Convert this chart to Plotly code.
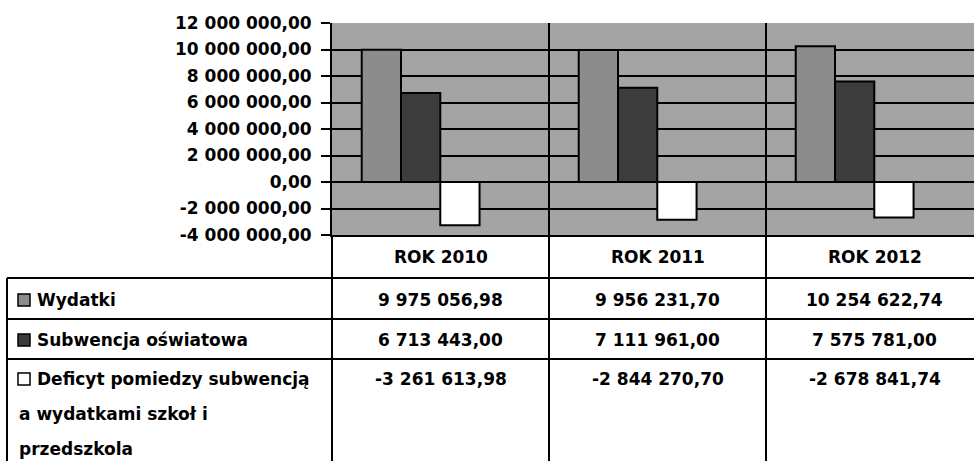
import textwrap
import plotly.graph_objects as go

# ---------------- data ----------------
categories = ["ROK 2010", "ROK 2011", "ROK 2012"]
series_names = ["Wydatki", "Subwencja oświatowa",
                "Deficyt pomiedzy subwencją a wydatkami szkoł i przedszkola"]
wydatki = [9975056.98, 9956231.70, 10254622.74]
subwencja = [6713443.00, 7111961.00, 7575781.00]
deficyt = [-3261613.98, -2844270.70, -2678841.74]
y_ticks = [-4000000, -2000000, 0, 2000000, 4000000, 6000000, 8000000, 10000000, 12000000]

series_values = [wydatki, subwencja, deficyt]
bar_colors = ["#8c8c8c", "#3c3c3c", "#ffffff"]


def pl(v):
    s = f"{v:,.2f}"
    return s.replace(",", " ").replace(".", ",")


# ---------------- geometry (pixels) ----------------
W, H = 974, 461
L, R, T, B = 332, 974, 23, 235
FONT = "DejaVu Sans"
FS = 17


def px(x):
    return (x - L) / (R - L)


def py(y):
    return (B - y) / (B - T)


bar_w = 0.181
offsets = [-0.363, -0.182, -0.001]

fig = go.Figure()
for name, vals, col, off in zip(series_names, series_values, bar_colors, offsets):
    fig.add_trace(go.Bar(
        x=categories, y=vals, name=name,
        marker=dict(color=col, line=dict(color="black", width=2)),
        width=bar_w, offset=off, showlegend=False,
    ))

shapes = []
# category separators through plot and table
for i in range(1, len(categories)):
    shapes.append(dict(type="line", xref="x", yref="paper",
                       x0=i - 0.5, x1=i - 0.5, y0=py(H + 2), y1=1,
                       line=dict(color="black", width=2)))
# vertical line under y axis through table
shapes.append(dict(type="line", xref="paper", yref="paper",
                   x0=0, x1=0, y0=py(H + 2), y1=0,
                   line=dict(color="black", width=2)))
# left border of table
shapes.append(dict(type="line", xref="paper", yref="paper",
                   x0=px(7), x1=px(7), y0=py(H + 2), y1=py(278),
                   line=dict(color="black", width=2)))
# horizontal row lines
row_lines = [278, 319, 359]
for yl in row_lines:
    shapes.append(dict(type="line", xref="paper", yref="paper",
                       x0=px(7), x1=1, y0=py(yl), y1=py(yl),
                       line=dict(color="black", width=2)))

annotations = []
# header
for i, c in enumerate(categories):
    annotations.append(dict(x=i, xref="x", y=py(257), yref="paper",
                            text=c, showarrow=False, xanchor="center",
                            yanchor="middle",
                            font=dict(family=FONT, size=FS, color="black", weight="bold")))

row_y = [300, 340, 379]
for r, (name, vals, col) in enumerate(zip(series_names, series_values, bar_colors)):
    yc = row_y[r]
    # legend key
    shapes.append(dict(type="rect", xref="paper", yref="paper",
                       x0=px(18), x1=px(30), y0=py(yc - 6), y1=py(yc + 6),
                       fillcolor=col, line=dict(color="black", width=1.5)))
    lines = textwrap.wrap(name, 26)
    for k, ln in enumerate(lines):
        annotations.append(dict(x=px(35 if k == 0 else 17), xref="paper",
                                y=py(yc + 35 * k), yref="paper",
                                text=ln, showarrow=False, xanchor="left",
                                yanchor="middle",
                                font=dict(family=FONT, size=FS, color="black", weight="bold")))
    for i, v in enumerate(vals):
        annotations.append(dict(x=i, xref="x", y=py(yc), yref="paper",
                                text=pl(v), showarrow=False, xanchor="center",
                                yanchor="middle",
                                font=dict(family=FONT, size=FS, color="black", weight="bold")))

x_right = -0.5 + (R - L) / 217.0

fig.update_layout(
    width=W, height=H,
    margin=dict(l=L, r=W - R, t=T, b=H - B, pad=0),
    paper_bgcolor="white",
    plot_bgcolor="#a4a4a4",
    barmode="overlay",
    showlegend=False,
    shapes=shapes,
    annotations=annotations,
    font=dict(family=FONT, size=FS, color="black", weight="bold"),
    xaxis=dict(type="category", range=[-0.5, x_right], showticklabels=False,
               showgrid=False, zeroline=False, showline=True,
               linecolor="black", linewidth=2, ticks=""),
    yaxis=dict(range=[-4000000, 12000000], tickvals=y_ticks,
               ticktext=[pl(v) for v in y_ticks],
               showgrid=True, gridcolor="black", gridwidth=2,
               zeroline=True, zerolinecolor="black", zerolinewidth=2,
               showline=True, linecolor="black", linewidth=2,
               ticks="outside", ticklen=9, tickwidth=2, tickcolor="black",
               ticklabelstandoff=6,
               tickfont=dict(family=FONT, size=FS, color="black", weight="bold")),
)

fig.write_html("out.html",
               config={"displayModeBar": False},
               post_script="document.body.style.margin='0';document.body.style.overflow='hidden';")
